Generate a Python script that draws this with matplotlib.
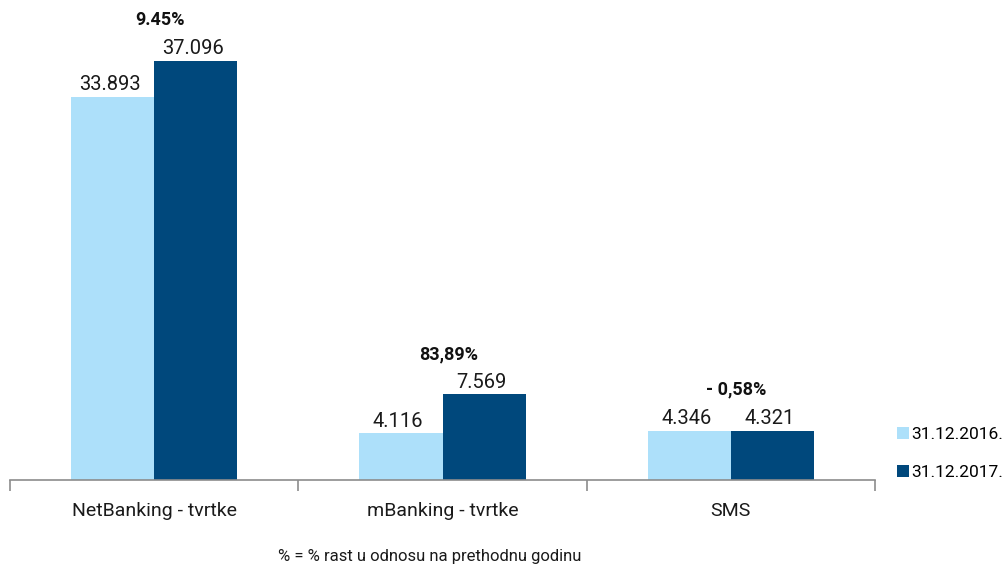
import matplotlib
matplotlib.use("Agg")
import matplotlib.pyplot as plt
import numpy as np
from matplotlib.patches import Patch

categories = ["NetBanking - tvrtke", "mBanking - tvrtke", "SMS"]
series_names = ["31.12.2016.", "31.12.2017."]
values_2016 = [33893, 4116, 4346]
values_2017 = [37096, 7569, 4321]
labels_2016 = ["33.893", "4.116", "4.346"]
labels_2017 = ["37.096", "7.569", "4.321"]
growth_labels = ["9.45%", "83,89%", "- 0,58%"]
growth_y = [40700, 11150, 8050]
footnote = "% = % rast u odnosu na prethodnu godinu"

c_light = "#ADE0FA"
c_dark = "#00487C"

plt.rcParams['font.family'] = ['Roboto', 'DejaVu Sans']

fig = plt.figure(figsize=(10.02, 5.65), dpi=100)
ax = fig.add_axes([10/1002, 85/565, 865/1002, 470/565])

x = np.arange(len(categories))
w = 0.288
ax.bar(x - w/2, values_2016, width=w, color=c_light, edgecolor="none")
ax.bar(x + w/2, values_2017, width=w, color=c_dark, edgecolor="none")

for xi, v, lab in zip(x - w/2, values_2016, labels_2016):
    ax.annotate(lab, (xi - 0.01, v), xytext=(0, 2), textcoords="offset points",
                ha="center", va="bottom", fontsize=14.5, color="#1a1a1a")
for xi, v, lab in zip(x + w/2, values_2017, labels_2017):
    ax.annotate(lab, (xi - 0.01, v), xytext=(0, 2), textcoords="offset points",
                ha="center", va="bottom", fontsize=14.5, color="#1a1a1a")
for xi, gy, g in zip(x, growth_y, growth_labels):
    ax.text(xi + 0.02, gy, g, ha="center", va="center", fontsize=13,
            fontweight="bold", color="#111111")

ax.set_xlim(-0.5, len(categories) - 0.5)
ax.set_ylim(0, 41600)
ax.set_yticks([])
for s in ["top", "right", "left"]:
    ax.spines[s].set_visible(False)
ax.spines["bottom"].set_color("#8c8c8c")
ax.spines["bottom"].set_linewidth(1.2)

ax.set_xticks(np.arange(-0.5, len(categories)), minor=False)
ax.set_xticklabels([])
ax.tick_params(axis="x", which="major", length=8, color="#8c8c8c", width=1.2)
ax.set_xticks(x, minor=True)
ax.set_xticklabels(categories, minor=True, fontsize=14, color="#1a1a1a")
ax.tick_params(axis="x", which="minor", length=0, pad=16)

handles = [Patch(facecolor=c_light, edgecolor="none"), Patch(facecolor=c_dark, edgecolor="none")]
fig.legend(handles, series_names, loc="upper left", bbox_to_anchor=(890/1002, 1 - 420/565),
           frameon=False, fontsize=12.5, handlelength=0.7, handleheight=0.7,
           handletextpad=0.1, labelspacing=1.3, borderaxespad=0)

fig.text(430/1002, 1 - 556/565, footnote, ha="center", va="center", fontsize=12, color="#1a1a1a")

fig.savefig("out.png", dpi=100)
